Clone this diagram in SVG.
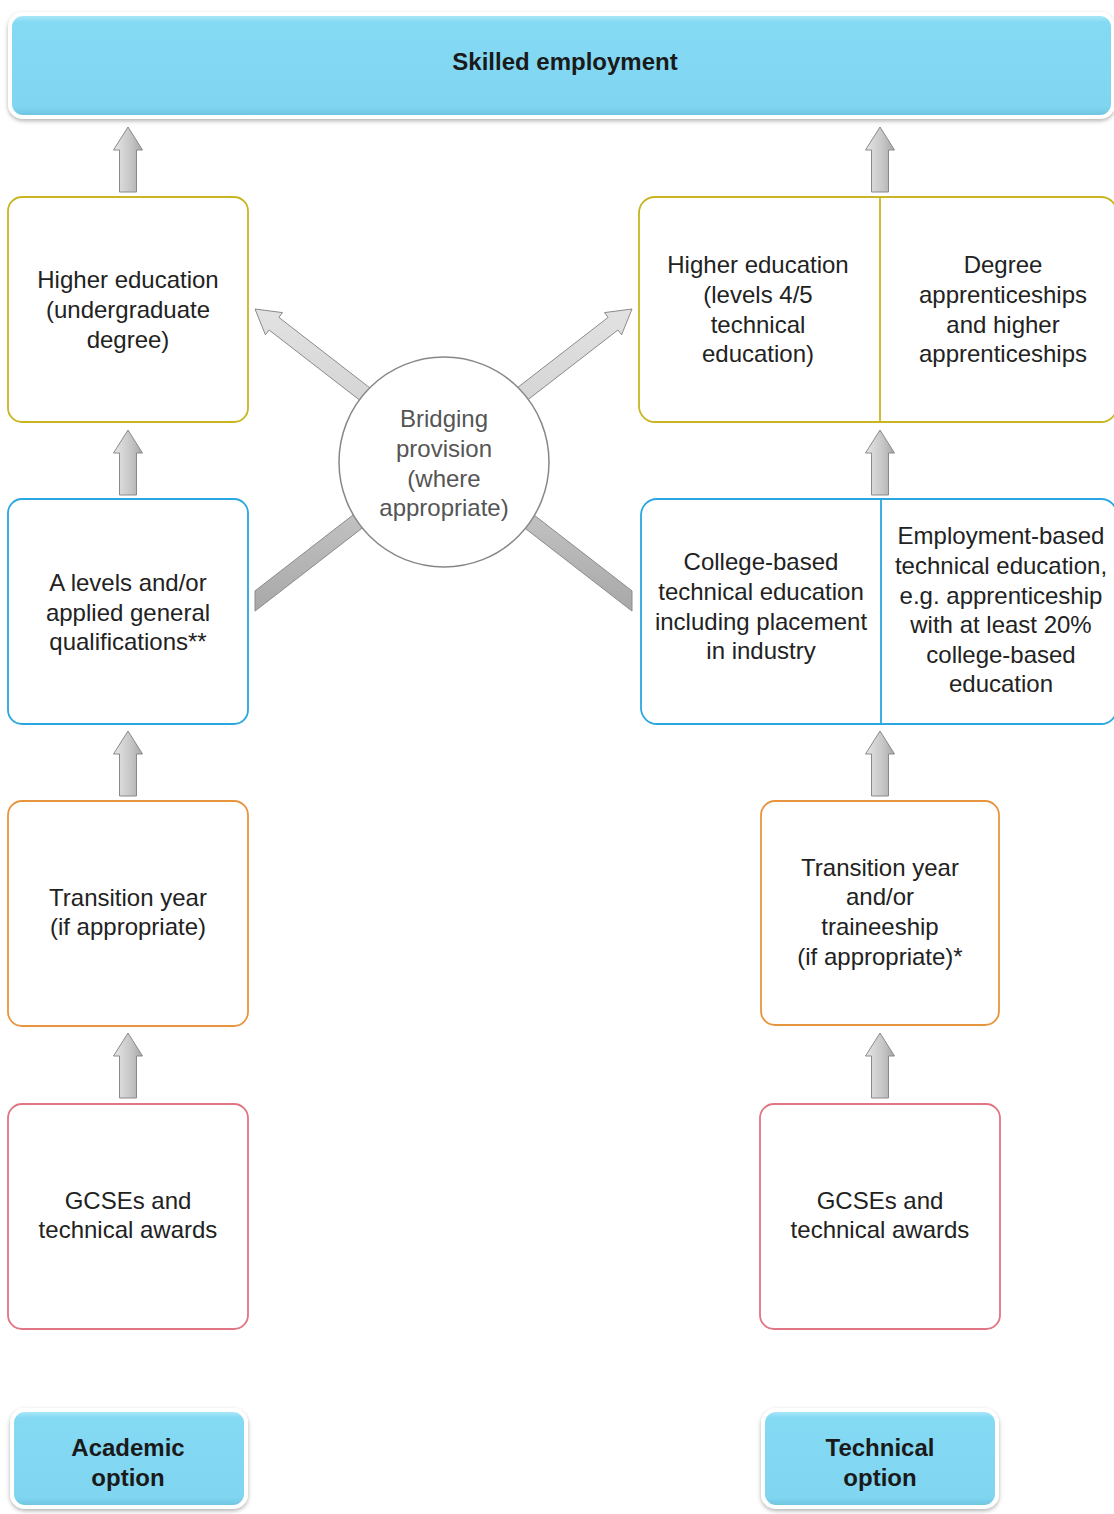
<svg xmlns="http://www.w3.org/2000/svg" xmlns:xlink="http://www.w3.org/1999/xlink" width="1114" height="1514" viewBox="0 0 1114 1514">
<defs>
<style>
.t{font-family:"Liberation Sans",Arial,sans-serif;font-size:24px;fill:#222;text-anchor:middle}
.tb{font-family:"Liberation Sans",Arial,sans-serif;font-size:24px;font-weight:bold;fill:#1a1a1a;text-anchor:middle}
.tg{font-family:"Liberation Sans",Arial,sans-serif;font-size:24px;fill:#555;text-anchor:middle}
.box{fill:#fff;stroke-width:1.8}
.yel{stroke:#C9B422}
.blu{stroke:#2AA7E0}
.org{stroke:#E8953F}
.pnk{stroke:#E27583}
.btn{fill:url(#cyan);stroke:#fff;stroke-width:4;filter:url(#sh)}
.arr{fill:url(#grey);stroke:#8a8a8a;stroke-width:1}
</style>
<linearGradient id="cyan" x1="0" y1="0" x2="0" y2="1">
<stop offset="0" stop-color="#b4ebfa"/>
<stop offset="0.08" stop-color="#84d9f3"/>
<stop offset="0.9" stop-color="#80d6f1"/>
<stop offset="1" stop-color="#6cc2de"/>
</linearGradient>
<linearGradient id="grey" x1="0" y1="0" x2="1" y2="0">
<stop offset="0" stop-color="#e6e6e6"/>
<stop offset="0.6" stop-color="#c6c6c6"/>
<stop offset="1" stop-color="#a6a6a6"/>
</linearGradient>
<linearGradient id="greyd" x1="0" y1="0" x2="0" y2="1">
<stop offset="0" stop-color="#e2e2e2"/>
<stop offset="0.6" stop-color="#c8c8c8"/>
<stop offset="1" stop-color="#a8a8a8"/>
</linearGradient>
<filter id="sh" x="-5%" y="-10%" width="110%" height="125%">
<feDropShadow dx="0" dy="2" stdDeviation="2" flood-color="#000" flood-opacity="0.3"/>
</filter>
<polygon id="up" points="-8.5,65 -8.5,23 -14.5,23 0,0 14.5,23 8.5,23 8.5,65"/>
</defs>
<rect width="1114" height="1514" fill="#fff"/>

<g id="skilled-employment">
<rect class="btn" x="10" y="14" width="1103" height="103" rx="13"/>
<text class="tb" x="565" y="70">Skilled employment</text>
</g>

<g id="connectors">
<use href="#up" class="arr" x="128" y="127"/>
<use href="#up" class="arr" x="128" y="430"/>
<use href="#up" class="arr" x="128" y="731"/>
<use href="#up" class="arr" x="128" y="1033"/>
<use href="#up" class="arr" x="880" y="127"/>
<use href="#up" class="arr" x="880" y="430"/>
<use href="#up" class="arr" x="880" y="731"/>
<use href="#up" class="arr" x="880" y="1033"/>
<polygon style="fill:url(#greyd);stroke:#8a8a8a;stroke-width:1" points="255,590.9 608.1,317.4 604.5,312.6 632,309 621.6,334.8 617.9,330 255,611.1"/>
<polygon style="fill:url(#greyd);stroke:#8a8a8a;stroke-width:1" points="632,590.9 278.9,317.4 282.5,312.6 255,309 265.4,334.8 269.1,330 632,611.1"/>
</g>

<g id="bridging">
<circle cx="444" cy="462" r="105" fill="#fff" stroke="#888" stroke-width="1.5"/>
<text class="tg" x="444" y="427">Bridging</text>
<text class="tg" x="444" y="457">provision</text>
<text class="tg" x="444" y="487">(where</text>
<text class="tg" x="444" y="516">appropriate)</text>
</g>

<g id="he-academic">
<rect class="box yel" x="8" y="197" width="240" height="225" rx="14"/>
<text class="t" x="128" y="288">Higher education</text>
<text class="t" x="128" y="318">(undergraduate</text>
<text class="t" x="128" y="348">degree)</text>
</g>

<g id="a-levels">
<rect class="box blu" x="8" y="499" width="240" height="225" rx="14"/>
<text class="t" x="128" y="591">A levels and/or</text>
<text class="t" x="128" y="621">applied general</text>
<text class="t" x="128" y="650">qualifications**</text>
</g>

<g id="transition-academic">
<rect class="box org" x="8" y="801" width="240" height="225" rx="14"/>
<text class="t" x="128" y="906">Transition year</text>
<text class="t" x="128" y="935">(if appropriate)</text>
</g>

<g id="gcse-academic">
<rect class="box pnk" x="8" y="1104" width="240" height="225" rx="14"/>
<text class="t" x="128" y="1209">GCSEs and</text>
<text class="t" x="128" y="1238">technical awards</text>
</g>

<g id="he-technical">
<rect class="box yel" x="639" y="197" width="478" height="225" rx="16"/>
<line class="yel" x1="880" y1="197" x2="880" y2="422" stroke-width="1.8"/>
<text class="t" x="758" y="273">Higher education</text>
<text class="t" x="758" y="303">(levels 4/5</text>
<text class="t" x="758" y="333">technical</text>
<text class="t" x="758" y="362">education)</text>
<text class="t" x="1003" y="273">Degree</text>
<text class="t" x="1003" y="303">apprenticeships</text>
<text class="t" x="1003" y="333">and higher</text>
<text class="t" x="1003" y="362">apprenticeships</text>
</g>

<g id="technical-education">
<rect class="box blu" x="641" y="499" width="476" height="225" rx="16"/>
<line class="blu" x1="881" y1="499" x2="881" y2="724" stroke-width="1.8"/>
<text class="t" x="761" y="570">College-based</text>
<text class="t" x="761" y="600">technical education</text>
<text class="t" x="761" y="630">including placement</text>
<text class="t" x="761" y="659">in industry</text>
<text class="t" x="1001" y="544">Employment-based</text>
<text class="t" x="1001" y="574">technical education,</text>
<text class="t" x="1001" y="604">e.g. apprenticeship</text>
<text class="t" x="1001" y="633">with at least 20%</text>
<text class="t" x="1001" y="663">college-based</text>
<text class="t" x="1001" y="692">education</text>
</g>

<g id="transition-technical">
<rect class="box org" x="761" y="801" width="238" height="224" rx="14"/>
<text class="t" x="880" y="876">Transition year</text>
<text class="t" x="880" y="905">and/or</text>
<text class="t" x="880" y="935">traineeship</text>
<text class="t" x="880" y="965">(if appropriate)*</text>
</g>

<g id="gcse-technical">
<rect class="box pnk" x="760" y="1104" width="240" height="225" rx="14"/>
<text class="t" x="880" y="1209">GCSEs and</text>
<text class="t" x="880" y="1238">technical awards</text>
</g>

<g id="academic-option">
<rect class="btn" x="12" y="1410" width="234" height="97" rx="13"/>
<text class="tb" x="128" y="1456">Academic</text>
<text class="tb" x="128" y="1486">option</text>
</g>

<g id="technical-option">
<rect class="btn" x="763" y="1410" width="234" height="97" rx="13"/>
<text class="tb" x="880" y="1456">Technical</text>
<text class="tb" x="880" y="1486">option</text>
</g>
</svg>
